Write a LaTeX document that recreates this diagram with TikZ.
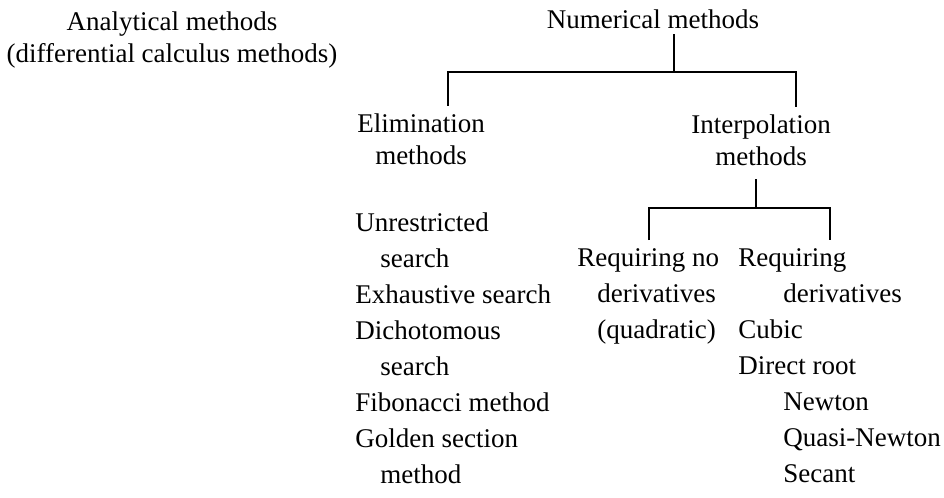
\documentclass[tikz,border=0pt]{standalone}
\usepackage{fontspec}
\setmainfont{Liberation Serif}

\begin{document}
\begin{tikzpicture}[x=0.5pt, y=-0.5pt,
    heading/.style={inner sep=0pt, align=center, anchor=north, font=\fontsize{13.5pt}{16pt}\selectfont},
    list/.style={inner sep=0pt, align=left, anchor=north west, font=\fontsize{13.5pt}{18pt}\selectfont},
    branch/.style={line width=1pt}]
    \useasboundingbox (0,0) rectangle (944,498);

    \node[heading] (Analytical)    at (172,11.6)  {Analytical methods\\(differential calculus methods)};
    \node[heading] (Numerical)     at (653,9.6)   {Numerical methods};
    \node[heading] (Elimination)   at (421,113.6) {Elimination\\methods};
    \node[heading] (Interpolation) at (761,114.6) {Interpolation\\methods};

    \node[list] (Elim list) at (355,212.6) {Unrestricted\\\hspace*{12.5pt}search\\Exhaustive search\\Dichotomous\\\hspace*{12.5pt}search\\Fibonacci method\\Golden section\\\hspace*{12.5pt}method};
    \node[list] (No deriv)  at (577,248.6) {Requiring no\\\hspace*{10pt}derivatives\\\hspace*{10pt}(quadratic)};
    \node[list] (Deriv)     at (738,248.6) {Requiring\\\hspace*{22.5pt}derivatives\\Cubic\\Direct root\\\hspace*{22.5pt}Newton\\\hspace*{22.5pt}Quasi-Newton\\\hspace*{22.5pt}Secant};

    % numerical methods split
    \draw[branch] ([xshift=10.5pt,yshift=-2.5pt]Numerical.south) -- ++(0,-19pt) coordinate (Fork 1);
    \draw[branch] ([xshift=13.5pt,yshift=4pt]Elimination.north) |- (Fork 1)
                  -| ([xshift=17.5pt,yshift=4pt]Interpolation.north);

    % interpolation methods split
    \draw[branch] ([xshift=-2.5pt,yshift=-6.5pt]Interpolation.south) -- ++(0,-14.5pt) coordinate (Fork 2);
    \draw[branch] ([xshift=0.5pt,yshift=4.3pt]No deriv.north) |- (Fork 2)
                  -| ([xshift=46pt,yshift=4.3pt]Deriv.north west);
\end{tikzpicture}
\end{document}
